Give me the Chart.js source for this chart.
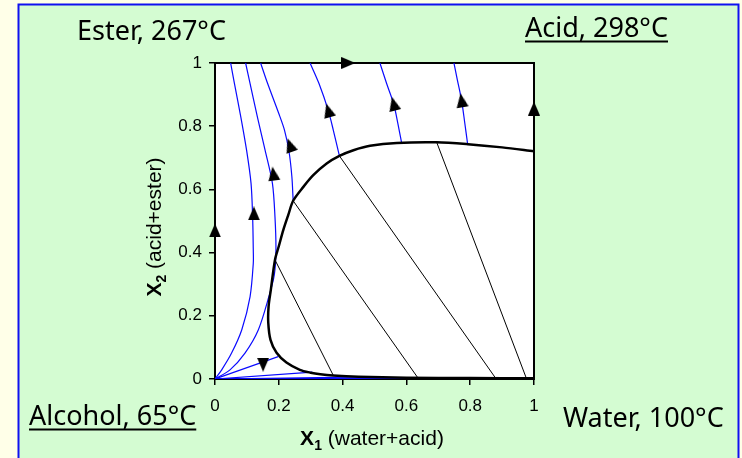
<!DOCTYPE html>
<html>
<head>
<meta charset="utf-8">
<script src="https://cdn.jsdelivr.net/npm/chart.js"></script>
<style>
html, body { margin: 0; padding: 0; background: #FFFFE8; }
</style>
</head>
<body>
<canvas id="myChart" width="742" height="458"></canvas>
<script>
// axis ticks
var xTicks = [0, 0.2, 0.4, 0.6, 0.8, 1]
var yTicks = [0, 0.2, 0.4, 0.6, 0.8, 1]

// two-phase envelope (bottom right, round the left, to top right)
var envelopeX = [1, 0.8, 0.6, 0.45, 0.37, 0.33, 0.3, 0.266, 0.224, 0.193, 0.174, 0.167, 0.168, 0.175, 0.188, 0.2, 0.214, 0.23, 0.245, 0.277, 0.308, 0.35, 0.39, 0.434, 0.486, 0.57, 0.695, 0.793, 0.9, 1]
var envelopeY = [0.002, 0.003, 0.004, 0.007, 0.011, 0.015, 0.02, 0.029, 0.052, 0.083, 0.124, 0.178, 0.23, 0.282, 0.377, 0.42, 0.471, 0.52, 0.564, 0.608, 0.645, 0.682, 0.706, 0.724, 0.738, 0.747, 0.749, 0.743, 0.733, 0.721]

// tie lines
var tieStartX = [0.188, 0.245, 0.39, 0.695]
var tieStartY = [0.377, 0.564, 0.706, 0.749]
var tieEndX = [0.371, 0.635, 0.878, 0.975]
var tieEndY = [0.011, 0.005, 0.005, 0.005]

// residue curves
var curve1X = [0, 0.021, 0.052, 0.084, 0.11, 0.12, 0.12, 0.118, 0.113, 0.099, 0.081, 0.061, 0.049]
var curve1Y = [0, 0.029, 0.082, 0.156, 0.261, 0.366, 0.408, 0.513, 0.619, 0.724, 0.829, 0.935, 1]
var curve2X = [0, 0.047, 0.094, 0.136, 0.169, 0.186, 0.191, 0.188, 0.18, 0.157, 0.133, 0.11, 0.096]
var curve2Y = [0, 0.029, 0.082, 0.156, 0.261, 0.33, 0.408, 0.513, 0.619, 0.724, 0.829, 0.935, 1]
var curve3X = [0.245, 0.241, 0.232, 0.218, 0.2, 0.165, 0.143]
var curve3Y = [0.564, 0.64, 0.72, 0.787, 0.84, 0.935, 1]
var curve4X = [0.39, 0.371, 0.355, 0.326, 0.298]
var curve4Y = [0.706, 0.787, 0.85, 0.935, 1]
var curve5X = [0.585, 0.573, 0.56, 0.538, 0.517]
var curve5Y = [0.747, 0.81, 0.871, 0.935, 1]
var curve6X = [0.792, 0.783, 0.773, 0.76, 0.749]
var curve6Y = [0.743, 0.81, 0.882, 0.945, 1]
// short legs from the alcohol corner to the lower envelope
var legEndX = [0.198, 0.305, 0.49, 0.73]
var legEndY = [0.071, 0.022, 0.007, 0.003]

// direction arrows
var arrowX = [0, 0.122, 0.183, 0.235, 0.355, 0.56, 0.773, 1, 0.418, 0.151]
var arrowY = [0.47, 0.524, 0.65, 0.74, 0.85, 0.871, 0.882, 0.856, 1, 0.045]
var arrowTurn = [0, 0, -8, -19, -16, -14, -9, 0, 90, 180]

function pts(xs, ys) {
    return xs.map(function (x, i) { return {x: x, y: ys[i]} })
}

var blue = 'rgb(10,10,255)'
var datasets = []

var arrowImg = document.createElement('canvas')
arrowImg.width = 12
arrowImg.height = 14
var ac = arrowImg.getContext('2d')
ac.fillStyle = '#000'
ac.beginPath()
ac.moveTo(6, 0)
ac.lineTo(12, 14)
ac.lineTo(0, 14)
ac.closePath()
ac.fill()

datasets.push({
    data: pts(arrowX, arrowY),
    pointStyle: arrowImg,
    pointRadius: 6,
    rotation: arrowTurn,
    showLine: false,
    clip: false
})

datasets.push({
    data: pts(envelopeX, envelopeY),
    showLine: true, pointRadius: 0,
    borderColor: '#000', borderWidth: 2.5, tension: 0.3
})

for (var i = 0; i < tieStartX.length; i++) {
    datasets.push({
        data: [{x: tieStartX[i], y: tieStartY[i]}, {x: tieEndX[i], y: tieEndY[i]}],
        showLine: true, pointRadius: 0,
        borderColor: '#000', borderWidth: 1
    })
}

var curves = [[curve1X, curve1Y], [curve2X, curve2Y], [curve3X, curve3Y],
              [curve4X, curve4Y], [curve5X, curve5Y], [curve6X, curve6Y]]
curves.forEach(function (c) {
    datasets.push({
        data: pts(c[0], c[1]),
        showLine: true, pointRadius: 0,
        borderColor: blue, borderWidth: 1.2, tension: 0.3
    })
})

for (var j = 0; j < legEndX.length; j++) {
    datasets.push({
        data: [{x: 0, y: 0}, {x: legEndX[j], y: legEndY[j]}],
        showLine: true, pointRadius: 0,
        borderColor: blue, borderWidth: 1.2
    })
}

function drawTitle(ctx, x, y, main, sub, rest) {
    ctx.font = 'bold 21px "Liberation Sans"'
    var w1 = ctx.measureText(main).width
    ctx.font = 'bold 14px "Liberation Sans"'
    var w2 = ctx.measureText(sub).width
    ctx.font = '21px "Liberation Sans"'
    var w3 = ctx.measureText(rest).width
    var x0 = x - (w1 + w2 + w3) / 2
    ctx.textAlign = 'left'
    ctx.textBaseline = 'alphabetic'
    ctx.font = 'bold 21px "Liberation Sans"'
    ctx.fillText(main, x0, y)
    ctx.font = 'bold 14px "Liberation Sans"'
    ctx.fillText(sub, x0 + w1, y + 5)
    ctx.font = '21px "Liberation Sans"'
    ctx.fillText(rest, x0 + w1 + w2, y)
}

function cornerLabel(ctx, text, x, y, underline) {
    ctx.font = '27px "Noto Sans"'
    ctx.textAlign = 'left'
    ctx.textBaseline = 'alphabetic'
    ctx.fillStyle = '#000'
    ctx.fillText(text, x, y)
    if (underline) {
        var w = ctx.measureText(text).width
        ctx.fillRect(x, y + 3.5, w, 2)
    }
}

var backdrop = {
    id: 'backdrop',
    beforeDraw: function (chart) {
        var ctx = chart.ctx
        var a = chart.chartArea
        ctx.save()
        ctx.fillStyle = '#FFFFE8'
        ctx.fillRect(0, 0, chart.width, chart.height)
        ctx.fillStyle = 'rgb(212,252,210)'
        ctx.fillRect(18, 4, 721, 470)
        ctx.strokeStyle = '#1010F0'
        ctx.lineWidth = 2
        ctx.strokeRect(18.5, 4.5, 720, 470)
        ctx.fillStyle = '#fff'
        ctx.fillRect(a.left, a.top, a.right - a.left, a.bottom - a.top)
        ctx.restore()
    },
    beforeDatasetsDraw: function (chart) {
        var ctx = chart.ctx
        var a = chart.chartArea
        ctx.save()
        ctx.strokeStyle = '#000'
        ctx.lineWidth = 2
        ctx.strokeRect(a.left, a.top, a.right - a.left, a.bottom - a.top)
        ctx.restore()
    },
    afterDraw: function (chart) {
        var ctx = chart.ctx
        ctx.save()
        ctx.fillStyle = '#000'
        drawTitle(ctx, 372, 445, 'X', '1', ' (water+acid)')
        ctx.translate(161, 227)
        ctx.rotate(-Math.PI / 2)
        drawTitle(ctx, 0, 0, 'X', '2', ' (acid+ester)')
        ctx.restore()
        ctx.save()
        cornerLabel(ctx, 'Ester, 267\u00B0C', 77, 40, false)
        cornerLabel(ctx, 'Acid, 298\u00B0C', 525, 37, true)
        cornerLabel(ctx, 'Alcohol, 65\u00B0C', 29, 425, true)
        cornerLabel(ctx, 'Water, 100\u00B0C', 563, 427, false)
        ctx.restore()
    }
}

function axis(ticks, fitKey, fitSize, pad) {
    return {
        type: 'linear',
        min: 0,
        max: 1,
        afterBuildTicks: function (scale) {
            scale.ticks = ticks.map(function (v) { return {value: v} })
        },
        afterFit: function (scale) { scale[fitKey] = fitSize },
        ticks: {
            color: '#000',
            padding: pad,
            font: {family: 'Liberation Sans', size: 17},
            callback: function (v) { return String(v) }
        },
        grid: {
            drawOnChartArea: false,
            drawTicks: true,
            tickLength: 6,
            color: '#000',
            lineWidth: 1.5
        },
        border: {display: true, color: '#000', width: 2}
    }
}

var myChart = new Chart(document.getElementById('myChart').getContext('2d'), {
    type: 'scatter',
    data: {datasets: datasets},
    options: {
        responsive: false,
        animation: false,
        events: [],
        layout: {padding: {left: 140, right: 208, top: 63, bottom: 19}},
        plugins: {legend: {display: false}, tooltip: {enabled: false}},
        scales: {
            x: axis(xTicks, 'height', 60, 11),
            y: axis(yTicks, 'width', 75, 7)
        }
    },
    plugins: [backdrop]
})
</script>
</body>
</html>
